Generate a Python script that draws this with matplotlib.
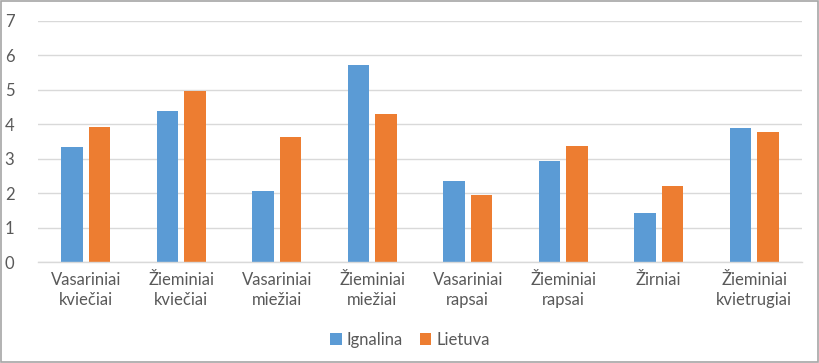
import matplotlib
matplotlib.use("Agg")
import matplotlib.pyplot as plt
import matplotlib.patches as patches
import numpy as np

categories = [
    "Vasariniai\nkviečiai",
    "Žieminiai\nkviečiai",
    "Vasariniai\nmiežiai",
    "Žieminiai\nmiežiai",
    "Vasariniai\nrapsai",
    "Žieminiai\nrapsai",
    "Žirniai",
    "Žieminiai\nkvietrugiai",
]
ignalina = [3.35, 4.38, 2.08, 5.71, 2.37, 2.94, 1.43, 3.88]
lietuva = [3.92, 4.97, 3.62, 4.29, 1.95, 3.37, 2.22, 3.77]
yticks = [0, 1, 2, 3, 4, 5, 6, 7]

plt.rcParams["font.family"] = ["Lato", "DejaVu Sans"]
txt_color = "#595959"
grid_color = "#d9d9d9"
fs = 12

fig = plt.figure(figsize=(8.2, 3.63), dpi=100)
ax = fig.add_axes([0.0463, 0.2774, 0.9317, 0.6656])

x = np.arange(len(categories))
w = 0.227
gap = 0.06
ax.bar(x - (w + gap) / 2, ignalina, w, color="#5B9BD5", label="Ignalina", zorder=3)
ax.bar(x + (w + gap) / 2, lietuva, w, color="#ED7D31", label="Lietuva", zorder=3)

ax.set_xlim(-0.5, len(categories) - 0.5)
ax.set_ylim(0, 7)
ax.set_yticks(yticks)
ax.set_xticks(x)
ax.set_xticklabels(categories, fontsize=fs, color=txt_color, linespacing=1.3)
ax.tick_params(axis="y", length=0, pad=17, labelsize=fs, labelcolor=txt_color)
ax.tick_params(axis="x", length=0, pad=7)
ax.grid(axis="y", color=grid_color, linewidth=1, zorder=0)
for s in ["top", "right", "left"]:
    ax.spines[s].set_visible(False)
ax.spines["bottom"].set_color(grid_color)
ax.spines["bottom"].set_linewidth(1)
ax.spines["bottom"].set_zorder(4)

fig.legend(
    loc="center",
    bbox_to_anchor=(0.5, 0.063),
    ncol=2,
    frameon=False,
    handlelength=0.7,
    handleheight=0.7,
    handletextpad=0.3,
    columnspacing=1.0,
    labelcolor=txt_color,
    fontsize=fs,
)

# outer chart border
fig.patches.append(
    patches.Rectangle((0.001, 0.002), 0.997, 0.995, transform=fig.transFigure,
                      fill=False, edgecolor="#a6a6a6", linewidth=1.2)
)

fig.savefig("out.png", dpi=100)
